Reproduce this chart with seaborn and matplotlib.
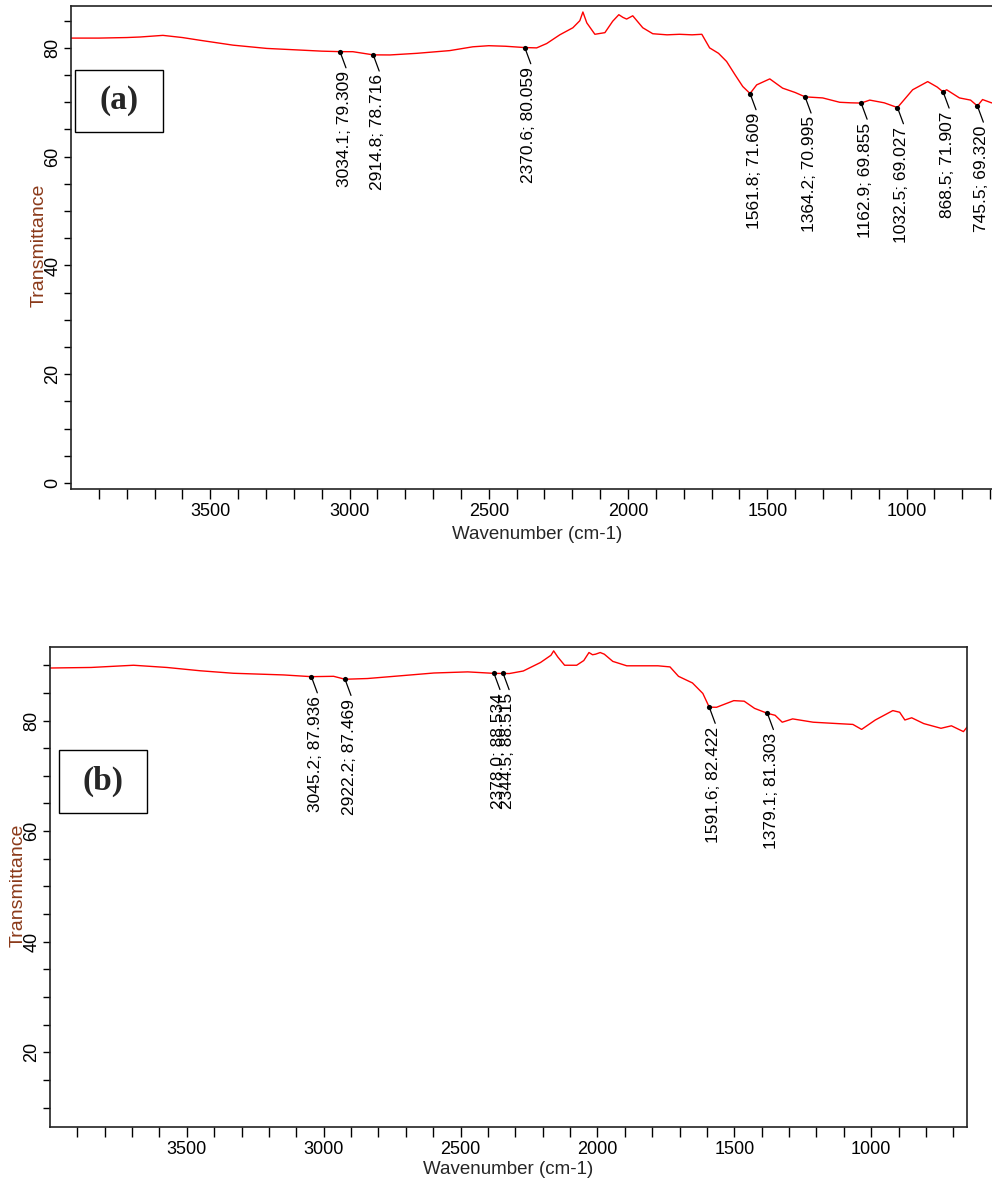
import matplotlib
matplotlib.use('Agg')
import matplotlib.pyplot as plt
import seaborn as sns
import pandas as pd
from matplotlib.patches import Rectangle

# ---------------- data ----------------
wn_a = [4000, 3900, 3800, 3752, 3670, 3600, 3537, 3418, 3297, 3178, 3100, 3034.1, 2988,
        2914.8, 2855, 2758, 2640, 2557, 2500, 2440, 2370.6, 2328, 2292, 2245, 2198, 2173,
        2162, 2148, 2119, 2083, 2055, 2033, 2018, 2005, 1983, 1947, 1911, 1860, 1815, 1770,
        1735, 1707, 1675, 1646, 1615, 1588, 1561.8, 1538, 1491, 1445, 1400, 1364.2, 1301,
        1240, 1200, 1162.9, 1132, 1080, 1032.5, 978, 924, 890, 868.5, 856, 810, 770, 745.5,
        727, 695, 650]
T_a = [81.8, 81.8, 81.9, 82.0, 82.3, 81.9, 81.4, 80.5, 79.9, 79.6, 79.4, 79.309, 79.3,
       78.716, 78.7, 79.0, 79.5, 80.2, 80.4, 80.3, 80.059, 80.0, 80.8, 82.4, 83.7, 85.0,
       86.6, 84.6, 82.5, 82.8, 84.9, 86.1, 85.6, 85.3, 85.9, 83.7, 82.6, 82.4, 82.5, 82.4,
       82.5, 80.0, 79.0, 77.5, 75.0, 72.9, 71.609, 73.2, 74.3, 72.6, 71.8, 70.995, 70.8,
       70.0, 69.9, 69.855, 70.4, 69.9, 69.027, 72.3, 73.8, 72.8, 71.907, 72.3, 70.8, 70.4,
       69.320, 70.5, 69.9, 69.7]

wn_b = [4000, 3850, 3695, 3573, 3451, 3330, 3147, 3045.2, 2964, 2922.2, 2840, 2718, 2597,
        2474, 2378.0, 2344.5, 2322, 2271, 2208, 2170, 2160, 2145, 2120, 2076, 2050, 2031,
        2018, 2007, 1990, 1975, 1944, 1893, 1779, 1735, 1704, 1653, 1615, 1591.6, 1565,
        1502, 1464, 1426, 1379.1, 1351, 1325, 1287, 1212, 1123, 1067, 1035, 985, 921, 896,
        877, 852, 808, 745, 707, 663, 650]
T_b = [89.5, 89.6, 90.0, 89.6, 89.0, 88.55, 88.25, 87.936, 88.0, 87.469, 87.6, 88.1, 88.6,
       88.8, 88.534, 88.515, 88.5, 88.96, 90.5, 91.8, 92.6, 91.5, 90.0, 90.0, 90.85, 92.3,
       91.9, 92.0, 92.3, 92.0, 90.7, 89.9, 89.9, 89.7, 88.0, 86.8, 84.9, 82.422, 82.4,
       83.6, 83.5, 82.2, 81.303, 80.95, 79.7, 80.3, 79.7, 79.45, 79.3, 78.4, 80.1, 81.8,
       81.5, 80.1, 80.5, 79.45, 78.6, 79.05, 78.0, 78.8]

peaks_a_wn = [3034.1, 2914.8, 2370.6, 1561.8, 1364.2, 1162.9, 1032.5, 868.5, 745.5]
peaks_a_T = [79.309, 78.716, 80.059, 71.609, 70.995, 69.855, 69.027, 71.907, 69.320]

peaks_b_wn = [3045.2, 2922.2, 2378.0, 2344.5, 1591.6, 1379.1]
peaks_b_T = [87.936, 87.469, 88.534, 88.515, 82.422, 81.303]

panel_labels = ['(a)', '(b)']
x_label = 'Wavenumber (cm-1)'
y_label = 'Transmittance'

# ---------------- style ----------------
sns.set_style('ticks')
plt.rcParams['font.family'] = ['Liberation Sans', 'DejaVu Sans']

fig = plt.figure(figsize=(9.92, 11.84), dpi=100)
ax_a = fig.add_axes([71/992, 695/1184, 933/992, 483/1184])
ax_b = fig.add_axes([50/992, 57/1184, 917/992, 480/1184])


def draw(ax, wn, T, pwn, pT, ylim, yticks, ylabels):
    df = pd.DataFrame({'wn': wn, 'T': T})
    sns.lineplot(data=df, x='wn', y='T', ax=ax, color='#ff0000', lw=1.0,
                 sort=False, estimator=None)
    pk = pd.DataFrame({'wn': pwn, 'T': pT})
    sns.scatterplot(data=pk, x='wn', y='T', ax=ax, color='black', s=14,
                    edgecolor='black', linewidth=0, zorder=5)
    ax.set_xlim(4000, 650)
    ax.set_ylim(*ylim)
    xt = list(range(3900, 650, -100))
    ax.set_xticks(xt)
    ax.set_xticklabels([str(v) if v % 500 == 0 else '' for v in xt], fontsize=13)
    ax.set_yticks(yticks)
    ax.set_yticklabels([str(v) if v in ylabels else '' for v in yticks], fontsize=13)
    for lab in ax.get_yticklabels():
        lab.set_rotation(90)
        lab.set_va('center')
    ax.tick_params(axis='x', direction='out', length=7, width=1, pad=3, colors='black')
    ax.tick_params(axis='y', direction='out', length=5, width=1, pad=2, colors='black')
    for s in ax.spines.values():
        s.set_linewidth(1.2)
        s.set_color('#222222')
    ax.set_xlabel(x_label, fontsize=13.5)
    ax.set_ylabel(y_label, fontsize=14, color='#8b3a1a')
    for w, t in zip(pwn, pT):
        ax.annotate(f"{w:.1f}; {t:.3f}", xy=(w, t), xytext=(3, -14),
                    textcoords='offset points', rotation=90, ha='center', va='top',
                    fontsize=12.5, color='black',
                    arrowprops=dict(arrowstyle='-', color='black', lw=0.9,
                                    shrinkA=0, shrinkB=0, relpos=(0.7, 1.0)))


draw(ax_a, wn_a, T_a, peaks_a_wn, peaks_a_T, (-1.1, 87.7),
     list(range(0, 86, 5)), [0, 20, 40, 60, 80])
ax_a.xaxis.set_label_coords(0.5, -0.076)
ax_a.yaxis.set_label_coords(-0.025, 0.505)

draw(ax_b, wn_b, T_b, peaks_b_wn, peaks_b_T, (6.5, 93.3),
     list(range(10, 91, 5)), [20, 40, 60, 80])
ax_b.xaxis.set_label_coords(0.5, -0.070)
ax_b.yaxis.set_label_coords(-0.026, 0.504)

# panel label boxes
for (x0, y0, x1, y1), lab in zip([(75, 70, 163, 132), (59, 750, 147, 813)], panel_labels):
    fig.patches.append(Rectangle((x0/992, 1 - y1/1184), (x1 - x0)/992, (y1 - y0)/1184,
                                 transform=fig.transFigure, fill=True, facecolor='white',
                                 edgecolor='black', lw=1.0, zorder=10))
    fig.text((x0 + x1)/2/992, 1 - (y0 + y1)/2/1184, lab, ha='center', va='center',
             fontsize=24, fontweight='bold', family=['Liberation Serif', 'DejaVu Serif'],
             zorder=11)

fig.savefig('out.png', dpi=100)
